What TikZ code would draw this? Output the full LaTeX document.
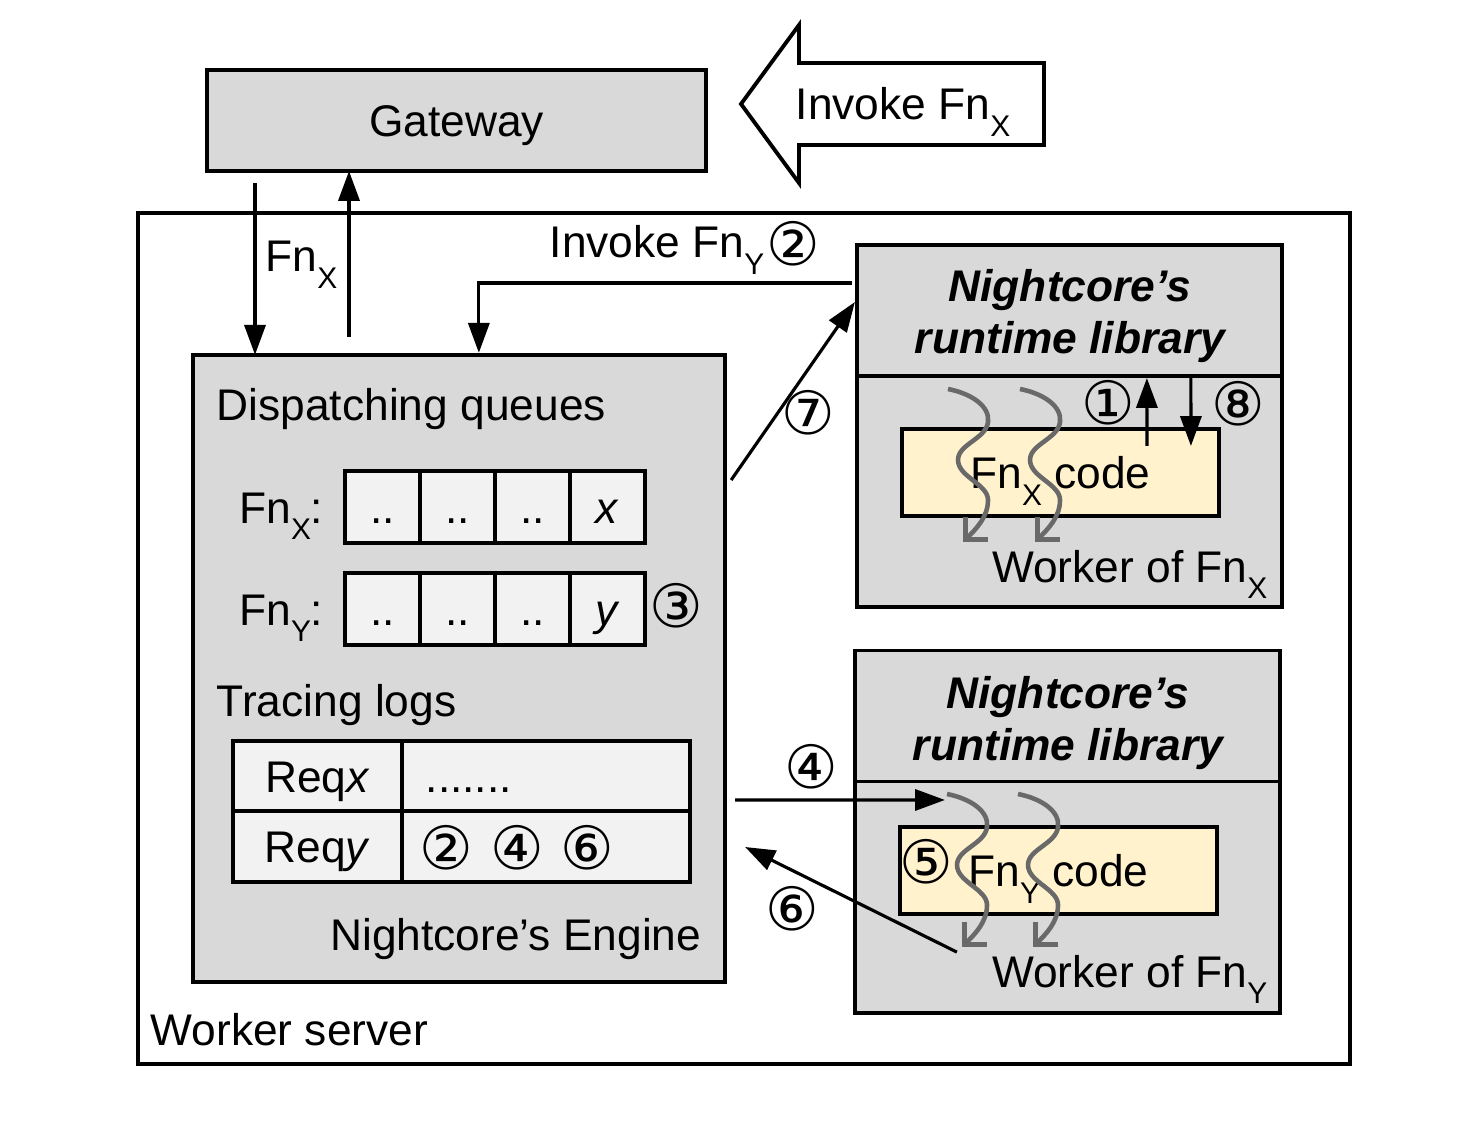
\documentclass[tikz,border=0pt]{standalone}
\usepackage{fontspec}
\setmainfont{Liberation Sans}
\newfontfamily\circfont{DejaVu Sans}
\usetikzlibrary{arrows.meta,calc,positioning}
\definecolor{boxgray}{HTML}{D9D9D9}
\definecolor{cellgray}{HTML}{F2F2F2}
\definecolor{codeyellow}{HTML}{FFF2CC}
\definecolor{wavegray}{HTML}{696969}
\newcommand{\fnsub}[1]{Fn\raisebox{-4.8pt}{\fontsize{8.5}{9}\selectfont #1}}
\newcommand{\cnum}[1]{{\circfont\fontsize{17}{17}\selectfont #1}}
\tikzset{
  box/.style={draw, line width=1.1pt, fill=boxgray, inner sep=0pt, outer sep=0pt},
  cell/.style={draw, line width=1.1pt, fill=cellgray, inner sep=0pt, outer sep=0pt,
    minimum width=0.75cm, minimum height=0.72cm, text height=9.1pt, text depth=0pt},
  codebox/.style={draw, line width=1.1pt, fill=codeyellow, inner sep=0pt, outer sep=0pt,
    minimum width=3.17cm, minimum height=0.87cm, text height=9.1pt, text depth=0pt},
  arr/.style={line width=0.9pt, -{Triangle[length=8.5pt,width=6pt]}},
  wave/.style={wavegray, line width=1.3pt, -{Straight Barb[length=4.5pt,width=9pt]}},
  lbl/.style={inner sep=0pt, anchor=base},
  step num/.style={inner sep=0pt},
}
\begin{document}
\fontsize{12.6}{15.6}\selectfont
\begin{tikzpicture}[x=0.01cm,y=-0.01cm]
\useasboundingbox (0,0) rectangle (1480,1128);
% outer boxes
\node[draw, line width=1.1pt, fill=white, inner sep=0pt, outer sep=0pt,
  minimum width=12.12cm, minimum height=8.51cm] (ws) at (744,638.5) {};
\node[box, minimum width=4.99cm, minimum height=1.01cm, text height=9.1pt, text depth=0pt] (gw) at (456.5,120.5) {Gateway};
\draw[line width=1.1pt, fill=white] (741,104) -- (799,25) -- (799,63) -- (1044,63)
  -- (1044,145) -- (799,145) -- (799,183) -- cycle;
\node[lbl, anchor=base west] (invx) at (795,120) {Invoke \fnsub{X}};
\node[lbl, anchor=base west] (wslbl) at (150,1045) {Worker server};
% engine
\node[box, minimum width=5.32cm, minimum height=6.27cm] (eng) at (459,668.5) {};
\node[lbl, anchor=base west] (dq) at (216,421) {Dispatching queues};
\foreach \i/\t in {0/..,1/..,2/..,3/\textit{x}}
  \node[cell] (qx\i) at (382.5+75*\i,507) {\t};
\foreach \i/\t in {0/..,1/..,2/..,3/\textit{y}}
  \node[cell] (qy\i) at (382.5+75*\i,609) {\t};
\node[lbl, anchor=base east] (lqx) at (324,523) {\fnsub{X}:};
\node[lbl, anchor=base east] (lqy) at (324,625) {\fnsub{Y}:};
\node[step num] (c3) at (676,606) {\cnum{③}};
\node[lbl, anchor=base west] (tl) at (216,716) {Tracing logs};
\node[cell, minimum width=1.69cm, minimum height=0.70cm] (logx1) at (317.5,776) {Req\textit{x}};
\node[cell, minimum width=2.88cm, minimum height=0.70cm] (logx2) at (546,776) {};
\node[cell, minimum width=1.69cm, minimum height=0.71cm] (logy1) at (317.5,846.5) {Req\textit{y}};
\node[cell, minimum width=2.88cm, minimum height=0.71cm] (logy2) at (546,846.5) {};
\node[lbl, anchor=base west] (dots) at (425,792) {.......};
\node[step num] (l2) at (446,848) {\cnum{②}};
\node[step num] (l4) at (517,848) {\cnum{④}};
\node[step num] (l6) at (587,848) {\cnum{⑥}};
\node[lbl, anchor=base east] (englbl) at (702,950) {Nightcore’s Engine};
% worker of Fn X
\node[box, minimum width=4.25cm, minimum height=3.62cm] (rt1) at (1069.5,426) {};
\node[box, minimum width=4.25cm, minimum height=1.31cm] (hdr1) at (1069.5,310.5) {};
\node[lbl, font=\bfseries\itshape] (h1a) at (1070,302) {Nightcore’s};
\node[lbl, font=\bfseries\itshape] (h1b) at (1070,354) {runtime library};
\node[codebox] (code1) at (1060.5,472.5) {\fnsub{X} code};
\node[lbl, anchor=base east] (wkx) at (1268,582) {Worker of \fnsub{X}};
% worker of Fn Y
\node[box, minimum width=4.25cm, minimum height=3.62cm] (rt2) at (1067.5,832) {};
\node[box, minimum width=4.25cm, minimum height=1.31cm] (hdr2) at (1067.5,716) {};
\node[lbl, font=\bfseries\itshape] (h2a) at (1068,708) {Nightcore’s};
\node[lbl, font=\bfseries\itshape] (h2b) at (1068,760) {runtime library};
\node[codebox] (code2) at (1058.5,870.5) {\fnsub{Y} code};
\node[step num] (c5) at (926,862) {\cnum{⑤}};
\node[lbl, anchor=base east] (wky) at (1268,987) {Worker of \fnsub{Y}};
% gateway arrows
\coordinate (gwout) at (255,183);
\coordinate (engout) at (349,337);
\draw[arr] (gwout) -- (gwout |- eng.north);
\draw[arr] (engout) -- (engout |- gw.south);
\node[lbl, anchor=base west] (fnx) at (265,272) {\fnsub{X}};
% numbered steps
\draw[arr] ($(hdr1.north west)+(-5,38)$) -| ($(eng.north west)+(286,-2)$);
\node[lbl, anchor=base west] (invy) at (549,258) {Invoke \fnsub{Y}};
\node[step num] (c2) at (793,244) {\cnum{②}};
\draw[arr] ($(code1.north west)+(245,17)$) -- ($(hdr1.south west)+(290,2)$);
\node[step num] (c1) at (1108,403) {\cnum{①}};
\draw[arr] ($(hdr1.south west)+(334,2)$) -- ($(code1.north west)+(289,17)$);
\node[step num] (c8) at (1238,404) {\cnum{⑧}};
\draw[arr] ($(eng.east)+(6,-188.5)$) -- ($(hdr1.west)+(-2,-8.5)$);
\node[step num] (c7) at (808,413) {\cnum{⑦}};
\draw[arr] ($(eng.east)+(10,131.5)$) -- ($(code2.north west)+(45,-27)$);
\node[step num] (c4) at (811,767) {\cnum{④}};
\draw[arr] ($(rt2.south west)+(102,-61)$) -- ($(eng.east)+(20,178.5)$);
\node[step num] (c6) at (792,909) {\cnum{⑥}};
% threads
\foreach \wx/\wy in {948/389,1020/389,947/794,1018/794}
  \draw[wave, shift={(\wx,\wy)}] (0,0) .. controls (25,5) and (42,18) .. (40,33)
    .. controls (38,50) and (10,55) .. (10,71) .. controls (10,88) and (40,95) .. (40,111)
    .. controls (40,128) and (28,140) .. (15,153);
\end{tikzpicture}
\end{document}
